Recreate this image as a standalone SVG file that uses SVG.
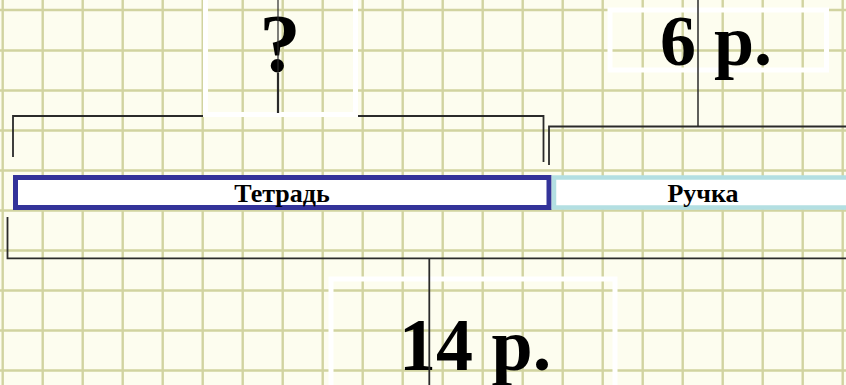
<svg xmlns="http://www.w3.org/2000/svg" width="846" height="385" viewBox="0 0 846 385">
<style>
.grid{stroke:#d1d3a0;stroke-width:2.4;fill:none}
.br{stroke:#2a2a2a;stroke-width:1.8;fill:none}
.box{stroke:#ffffff;stroke-width:5;fill:none}
.lbl{font-family:"Liberation Serif","Times New Roman",serif;font-weight:bold;fill:#000}
</style>
<rect width="846" height="385" fill="#fdfdef"/>
<g id="grid">
<path class="grid" d="M2.7,0V385M42.7,0V385M82.7,0V385M122.7,0V385M162.7,0V385M202.7,0V385M242.7,0V385M282.7,0V385M322.7,0V385M362.7,0V385M402.7,0V385M442.7,0V385M482.7,0V385M522.7,0V385M562.7,0V385M602.7,0V385M642.7,0V385M682.7,0V385M722.7,0V385M762.7,0V385M802.7,0V385M842.7,0V385"/>
<path class="grid" d="M0,10H846M0,50.5H846M0,90.5H846M0,130.5H846M0,170.5H846M0,210.5H846M0,250.5H846M0,290.5H846M0,330.5H846M0,370.5H846"/>
</g>
<g id="connectors">
<path class="br" d="M13,157V116H543.5V162"/>
<path class="br" d="M549,165V126.5H846"/>
<path class="br" d="M7.5,217V258.3H846"/>
</g>
<g id="bar-tetrad">
<rect x="15.5" y="177.5" width="533.5" height="30" fill="#ffffff" stroke="#333399" stroke-width="5"/>
<text class="lbl" x="282" y="202" font-size="26" text-anchor="middle">Тетрадь</text>
</g>
<g id="bar-ruchka">
<rect x="554" y="177.5" width="300" height="30" fill="#ffffff" stroke="#b3dfe2" stroke-width="4.5"/>
<text class="lbl" x="703" y="202" font-size="26" text-anchor="middle">Ручка</text>
</g>
<g id="label-question">
<path class="box" d="M205.5,0V114.5H355.5V0"/>
<text class="lbl" x="280" y="71" font-size="82" text-anchor="middle">?</text>
<line x1="278" y1="0" x2="278" y2="73" stroke="#2a2a2a" stroke-width="1.2"/>
<line x1="278" y1="73" x2="278" y2="113" stroke="#2a2a2a" stroke-width="2.2"/>
</g>
<g id="label-6">
<rect class="box" x="610" y="10" width="216.5" height="60"/>
<text class="lbl" x="660" y="65" font-size="72">6 р.</text>
<line x1="698" y1="0" x2="698" y2="126.5" stroke="#2a2a2a" stroke-width="1.5"/>
</g>
<g id="label-14">
<path class="box" d="M331,385V279H615V385"/>
<text class="lbl" x="399" y="370" font-size="74">14 р.</text>
<line x1="429.3" y1="258.3" x2="429.3" y2="385" stroke="#2a2a2a" stroke-width="1.8"/>
</g>
</svg>
